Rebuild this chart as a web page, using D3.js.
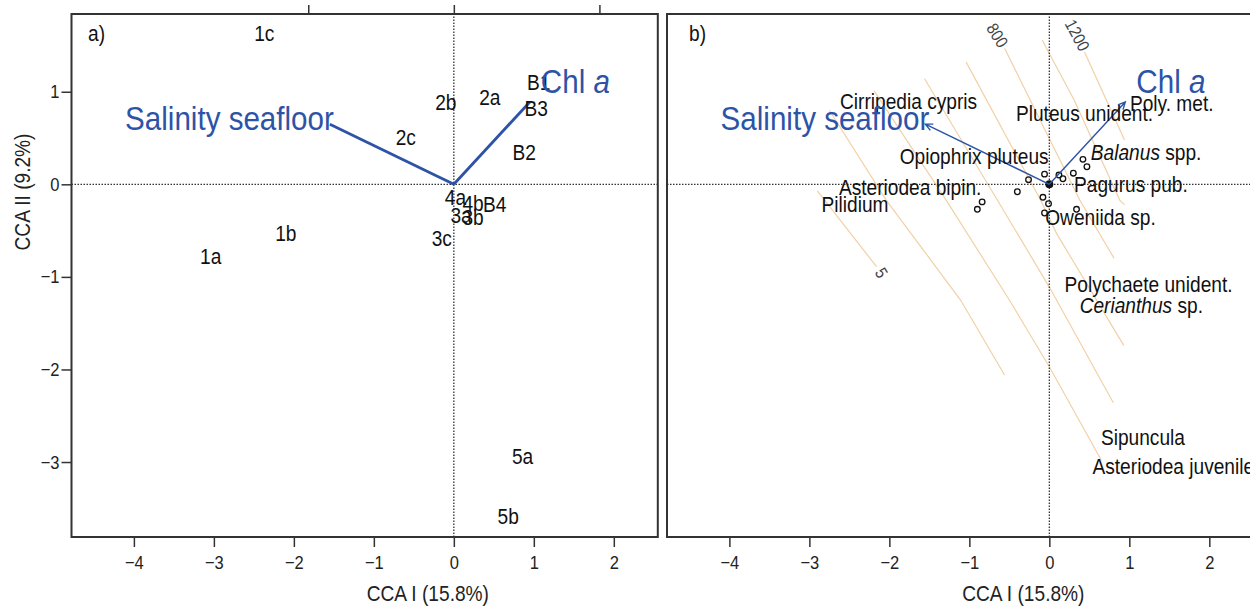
<!DOCTYPE html>
<meta charset="utf-8">
<head>
  <title>CCA biplots</title>
</head>
<style>
body { margin: 0; background: #fff; }
svg text { font-family: "Liberation Sans", Arial, Helvetica, sans-serif; }
.frame { fill: none; stroke: #333; stroke-width: 2; }
.zero { stroke: #333; stroke-width: 1.3; stroke-dasharray: 1.5,1.5; }
.contour { fill: none; stroke: #f1d1a8; stroke-width: 1.2; }
.sp { fill: none; stroke: #111; stroke-width: 1.3; }
</style>
<body>
<svg width="1250" height="606"></svg>

<script src="https://cdn.jsdelivr.net/npm/d3@7"></script>
<script>
// axes
var xTicks = [-4, -3, -2, -1, 0, 1, 2];
var yTicks = [-3, -2, -1, 0, 1];
var topTicks = [-1, 0, 1];      // biplot arrow axis (panel a, top)
var arrowMul = 1.82;
var xDomain = [-4.78, 2.55];
var yDomain = [-3.81, 1.84];

// panel a: site scores
var siteNames = ["1c", "2b", "2a", "B1", "B3", "2c", "B2", "4a", "4b", "B4", "3a", "3b", "3c", "1b", "1a", "5a", "5b"];
var siteX = [-2.37, -0.10, 0.45, 1.06, 1.03, -0.60, 0.88, 0.02, 0.24, 0.51, 0.09, 0.24, -0.15, -2.10, -3.04, 0.86, 0.68];
var siteY = [1.63, 0.89, 0.94, 1.10, 0.82, 0.51, 0.35, -0.135, -0.21, -0.22, -0.34, -0.36, -0.58, -0.53, -0.78, -2.94, -3.59];

// environmental vectors (both panels)
var envNames = ["Salinity seafloor", "Chl a"];
var envX = [-1.55, 0.95];
var envY = [0.65, 0.89];

// panel b: labelled species scores
var spNames = ["Cirripedia cypris", "Pluteus unident.", "Poly. met.", "Balanus spp.", "Opiophrix pluteus",
  "Pagurus pub.", "Asteriodea bipin.", "Pilidium", "Oweniida sp.", "Polychaete unident.", "Cerianthus sp.",
  "Sipuncula", "Asteriodea juvenile"];
var spX = [-1.76, 0.44, 1.53, 1.21, -0.94, 1.02, -1.74, -2.43, 0.64, 1.24, 1.15, 1.17, 1.55];
var spY = [0.90, 0.77, 0.88, 0.35, 0.30, 0.0, -0.03, -0.22, -0.36, -1.08, -1.31, -2.73, -3.05];
var spItalic = ["", "", "", "Balanus", "", "", "", "", "", "", "Cerianthus", "", ""];

// panel b: unlabelled species points
var ptX = [-0.06, -0.26, -0.40, -0.84, -0.90, -0.08, -0.01, -0.06, 0.12, 0.17, 0.30, 0.42, 0.47, 0.34];
var ptY = [0.11, 0.05, -0.08, -0.19, -0.27, -0.14, -0.21, -0.31, 0.10, 0.06, 0.12, 0.27, 0.19, -0.27];

// panel b: fitted surface contours
var contour1 = [[-2.90, -0.07], [-2.16, -0.89]];
var contour2 = [[-2.75, 0.80], [-2.04, -0.17], [-1.11, -1.25], [-0.56, -2.06]];
var contour3 = [[-2.19, 1.01], [-1.29, -0.17], [-0.50, -1.25], [0.0, -1.97], [0.65, -2.98]];
var contour4 = [[-1.56, 1.14], [-0.65, -0.17], [0.0, -1.11], [0.80, -2.36]];
var contour5 = [[-1.04, 1.32], [-0.11, -0.17], [0.09, -0.53], [0.93, -1.74]];
var contour6 = [[-0.56, 1.47], [0.38, -0.17], [0.81, -0.80]];
var contour7 = [[-0.09, 1.56], [0.31, 0.91], [0.88, -0.17], [0.94, -0.22]];
var contour8 = [[0.44, 1.43], [0.94, 0.48]];
var contours = [contour1, contour2, contour3, contour4, contour5, contour6, contour7, contour8];
var contourLabels = ["5", "800", "1200"];
var contourLabelX = [-2.10, -0.65, 0.35];
var contourLabelY = [-0.955, 1.61, 1.61];
var contourLabelAngle = [58, 58, 62];

var svg = d3.select("svg");
var fmt = function(d) { return d < 0 ? "\u2212" + Math.abs(d) : String(d); };
var blue = "#2d53a7";
var squeeze = 0.87;   // the original uses a condensed face

var xa = d3.scaleLinear().domain(xDomain).range([71.5, 657.8]);
var xb = d3.scaleLinear().domain(xDomain).range([667, 1253.3]);
var y = d3.scaleLinear().domain(yDomain).range([537, 14]);
var xaTop = d3.scaleLinear().domain(xDomain.map(function(d) { return d / arrowMul; })).range(xa.range());

function styleAxis(g) {
  g.select(".domain").remove();
  g.selectAll("line").attr("stroke", "#333").attr("stroke-width", 1.5);
  g.selectAll("text").attr("font-size", 19).attr("fill", "#222").attr("font-family", null);
}

function frame(x) {
  var g = svg.append("g");
  g.append("line").attr("class", "zero")
    .attr("x1", x.range()[0]).attr("x2", x.range()[1]).attr("y1", y(0)).attr("y2", y(0));
  g.append("line").attr("class", "zero")
    .attr("x1", x(0)).attr("x2", x(0)).attr("y1", y.range()[0]).attr("y2", y.range()[1]);
  g.append("rect").attr("class", "frame")
    .attr("x", x.range()[0]).attr("y", y.range()[1])
    .attr("width", x.range()[1] - x.range()[0]).attr("height", y.range()[0] - y.range()[1]);
  svg.append("g").attr("transform", "translate(0," + y.range()[0] + ")")
    .call(d3.axisBottom(x).tickValues(xTicks).tickSize(10).tickPadding(8).tickFormat(fmt))
    .call(styleAxis);
  svg.append("text").attr("x", x(0) - 26).attr("y", 601).attr("text-anchor", "middle")
    .attr("font-size", 22).attr("fill", "#222").text("CCA I (15.8%)");
}

// ---------- panel b contours (drawn first, under everything) ----------
var line = d3.line().x(function(d) { return xb(d[0]); }).y(function(d) { return y(d[1]); });
svg.append("g").selectAll("path").data(contours).enter().append("path")
  .attr("class", "contour").attr("d", line);
svg.append("g").selectAll("text").data(contourLabels).enter().append("text")
  .attr("transform", function(d, i) {
    return "translate(" + xb(contourLabelX[i]) + "," + y(contourLabelY[i]) + ") rotate(" + contourLabelAngle[i] + ")";
  })
  .attr("text-anchor", "middle").attr("dy", "0.35em")
  .attr("font-size", 17).attr("fill", "#444").text(function(d) { return d; });

// ---------- panel a ----------
frame(xa);
svg.append("g").attr("transform", "translate(" + xa.range()[0] + ",0)")
  .call(d3.axisLeft(y).tickValues(yTicks).tickSize(10).tickPadding(2).tickFormat(fmt))
  .call(styleAxis);
svg.append("g").attr("transform", "translate(0," + y.range()[1] + ")")
  .call(d3.axisTop(xaTop).tickValues(topTicks).tickSize(9).tickFormat(""))
  .call(styleAxis);
svg.append("text").attr("transform", "translate(30," + 192 + ") rotate(-90)")
  .attr("text-anchor", "middle").attr("font-size", 22).attr("fill", "#222").text("CCA II (9.2%)");
svg.append("text").attr("x", 88).attr("y", 41).attr("font-size", 22).attr("fill", "#111").text("a)");

svg.append("g").selectAll("line").data(envNames).enter().append("line")
  .attr("x1", xa(0)).attr("y1", y(0))
  .attr("x2", function(d, i) { return xa(envX[i]); })
  .attr("y2", function(d, i) { return y(envY[i]); })
  .attr("stroke", blue).attr("stroke-width", 2.8);

svg.append("g").selectAll("text").data(siteNames).enter().append("text")
  .attr("x", function(d, i) { return xa(siteX[i]); })
  .attr("y", function(d, i) { return y(siteY[i]); })
  .attr("dy", "0.35em").attr("text-anchor", "middle")
  .attr("font-size", 22).attr("fill", "#111")
  .text(function(d) { return d; });

function envLabels(x) {
  var g = svg.append("g").attr("fill", blue).attr("font-size", 34);
  g.append("text").attr("x", x(envX[0]) + 4).attr("y", y(envY[0]) - 6).attr("dy", "0.35em")
    .attr("text-anchor", "end").text(envNames[0]);
  var t = g.append("text").attr("x", x(envX[1]) + 11).attr("y", y(envY[1]) - 21).attr("dy", "0.35em");
  t.append("tspan").text("Chl ");
  t.append("tspan").attr("font-style", "italic").text("a");
}
envLabels(xa);

// ---------- panel b ----------
frame(xb);
svg.append("text").attr("x", 689).attr("y", 41).attr("font-size", 22).attr("fill", "#111").text("b)");

svg.append("g").selectAll("circle").data(ptX).enter().append("circle")
  .attr("class", "sp")
  .attr("cx", function(d) { return xb(d); })
  .attr("cy", function(d, i) { return y(ptY[i]); })
  .attr("r", 2.8);
svg.append("circle").attr("cx", xb(0)).attr("cy", y(0)).attr("r", 4).attr("fill", "#111");

svg.append("g").selectAll("path").data(envNames).enter().append("path")
  .attr("fill", "none").attr("stroke", blue).attr("stroke-width", 1.4)
  .attr("d", function(d, i) {
    var x0 = xb(0), y0 = y(0), x1 = xb(envX[i]), y1 = y(envY[i]);
    var a = Math.atan2(y1 - y0, x1 - x0), h = 8, s = 0.45;
    return "M" + x0 + "," + y0 + "L" + x1 + "," + y1 +
      "M" + (x1 - h * Math.cos(a - s)) + "," + (y1 - h * Math.sin(a - s)) +
      "L" + x1 + "," + y1 +
      "L" + (x1 - h * Math.cos(a + s)) + "," + (y1 - h * Math.sin(a + s));
  });

var spText = svg.append("g").selectAll("text").data(spNames).enter().append("text")
  .attr("x", function(d, i) { return xb(spX[i]); })
  .attr("y", function(d, i) { return y(spY[i]); })
  .attr("dy", "0.35em").attr("text-anchor", "middle")
  .attr("font-size", 22).attr("fill", "#111");
spText.each(function(d, i) {
  var t = d3.select(this);
  if (spItalic[i]) {
    t.append("tspan").attr("font-style", "italic").text(spItalic[i]);
    t.append("tspan").text(d.slice(spItalic[i].length));
  } else {
    t.text(d);
  }
});

envLabels(xb);

// condense every label horizontally around its anchor
svg.selectAll("text").each(function() {
  var t = d3.select(this);
  var tx = +t.attr("x") || 0, ty = +t.attr("y") || 0;
  var tr = t.attr("transform") || "";
  t.attr("transform", tr + " translate(" + tx + "," + ty + ") scale(" + squeeze + ",1)")
    .attr("x", null).attr("y", null);
});
</script>
</body>
